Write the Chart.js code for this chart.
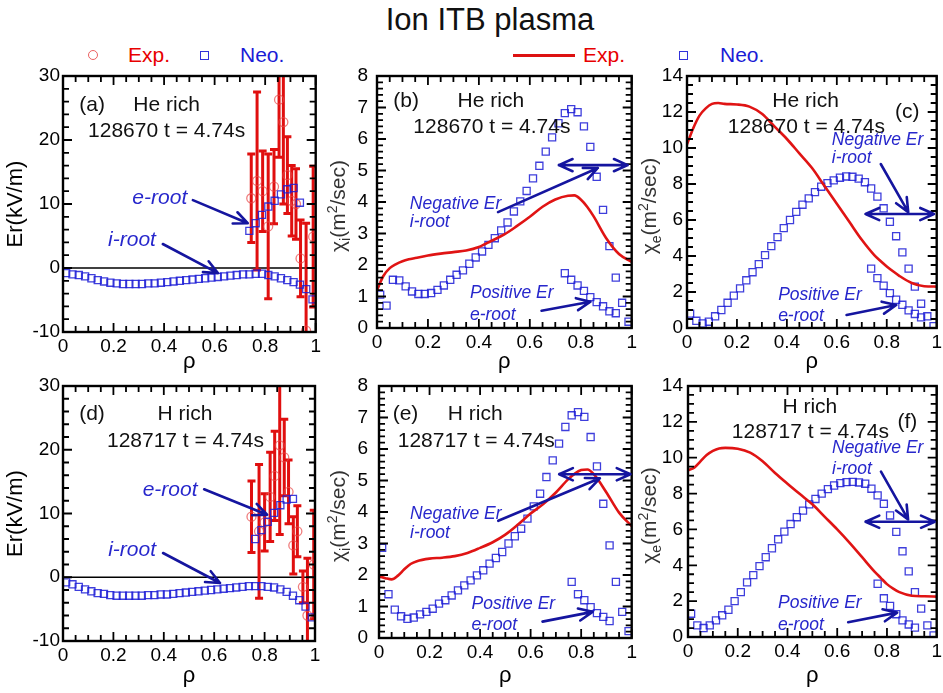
<!DOCTYPE html>
<html>
<head>
<meta charset="utf-8">
<title>Ion ITB plasma</title>
<script src="https://cdn.jsdelivr.net/npm/chart.js@4.4.1/dist/chart.umd.min.js"></script>
<style>
  body { margin: 0; width: 943px; height: 693px; background: #fff; position: relative; overflow: hidden;
         font-family: "Liberation Sans", Arial, sans-serif; }
  canvas { position: absolute; }
  .txt { position: absolute; font-size: 21px; line-height: 22px; white-space: nowrap; }
  #title { position: absolute; left: 290px; width: 400px; top: 3px; text-align: center; font-size: 31px; line-height: 34px; color: #111; }
  .circ { position: absolute; width: 8px; height: 8px; border-radius: 50%; border: 1.4px solid rgba(232,70,70,0.85); }
  .sq { position: absolute; width: 7px; height: 7px; border: 1.4px solid rgba(28,28,214,0.9); }
  .red { color: #e80000; }
  .blue { color: #1a1ad6; }
</style>
</head>
<body>
<div id="title">Ion ITB plasma</div>

<div class="circ" style="left:88px;top:50px"></div>
<div class="txt red" style="left:128px;top:44px">Exp.</div>
<div class="sq" style="left:200px;top:51px"></div>
<div class="txt blue" style="left:240px;top:44px">Neo.</div>

<div style="position:absolute;left:513px;top:54px;width:62px;height:3px;background:#dd1111"></div>
<div class="txt red" style="left:583px;top:44px">Exp.</div>
<div class="sq" style="left:679px;top:51px"></div>
<div class="txt blue" style="left:720px;top:44px">Neo.</div>

<canvas id="pa" width="322" height="318" style="left:0;top:62px"></canvas>
<canvas id="pb" width="316" height="318" style="left:322px;top:62px"></canvas>
<canvas id="pc" width="305" height="318" style="left:638px;top:62px"></canvas>
<canvas id="pd" width="322" height="321" style="left:0;top:372px"></canvas>
<canvas id="pe" width="316" height="321" style="left:322px;top:372px"></canvas>
<canvas id="pf" width="305" height="321" style="left:638px;top:372px"></canvas>

<script>
// tick labels
const xTicks = [0, 0.2, 0.4, 0.6, 0.8, 1];
const erTicks = [-10, 0, 10, 20, 30];
const chiITicks = [0, 1, 2, 3, 4, 5, 6, 7, 8];
const chiETicks = [0, 2, 4, 6, 8, 10, 12, 14];

// rho grid of the neoclassical points
const rhoNeo = [0.0125, 0.0375, 0.0625, 0.0875, 0.1125, 0.1375, 0.1625, 0.1875, 0.2125, 0.2375,
  0.2625, 0.2875, 0.3125, 0.3375, 0.3625, 0.3875, 0.4125, 0.4375, 0.4625, 0.4875,
  0.5125, 0.5375, 0.5625, 0.5875, 0.6125, 0.6375, 0.6625, 0.6875, 0.7125, 0.7375,
  0.7625, 0.7875, 0.8125, 0.8375, 0.8625, 0.8875, 0.9125, 0.9375, 0.9625, 0.9875];
const rhoEroot9 = [0.7375, 0.7625, 0.7875, 0.8125, 0.8375, 0.8625, 0.8875, 0.9125, 0.9375];
const rhoEroot7 = [0.7625, 0.7875, 0.8125, 0.8375, 0.8625, 0.8875, 0.9125];
// rho grid of the experimental chi curves
const rhoCurve = [0, 0.025, 0.05, 0.075, 0.1, 0.125, 0.15, 0.2, 0.25, 0.3, 0.35, 0.4, 0.45,
  0.5, 0.55, 0.6, 0.65, 0.7, 0.75, 0.775, 0.8, 0.825, 0.85, 0.9, 0.95, 1.0];

// (a) He rich, Er
const aIroot = [-0.8, -1.0, -1.1, -1.3, -1.6, -1.9, -2.1, -2.3, -2.4, -2.5,
  -2.5, -2.5, -2.5, -2.4, -2.4, -2.3, -2.2, -2.1, -2.0, -1.9,
  -1.8, -1.7, -1.6, -1.5, -1.4, -1.3, -1.2, -1.1, -1.0, -1.0,
  -0.9, -0.9, -1.1, -1.3, -1.6, -1.9, -2.2, -2.6, -3.3, -4.9];
const aEroot = [5.8, 7.0, 8.3, 9.6, 10.5, 11.5, 12.3, 12.5, 10.2];
const aExpRho = [0.745, 0.768, 0.790, 0.812, 0.835, 0.855, 0.872, 0.888, 0.905, 0.922, 0.940, 0.962, 0.990];
const aExpEr = [10.9, 13.6, 12.0, 6.5, 12.7, 26.3, 22.8, 14.5, 10.5, 10.0, 1.5, -9.8, 4.9];
const aExpErr = [6.9, 13.9, 6.3, 11.3, 5.8, 9.0, 12.8, 6.0, 5.5, 5.5, 6.0, 16.8, 11.0];

// (d) H rich, Er
const dIroot = [-0.8, -1.1, -1.5, -1.9, -2.2, -2.5, -2.6, -2.8, -2.9, -2.9,
  -2.9, -2.9, -2.9, -2.8, -2.8, -2.7, -2.7, -2.6, -2.5, -2.4,
  -2.3, -2.2, -2.1, -2.0, -1.9, -1.8, -1.7, -1.6, -1.5, -1.4,
  -1.4, -1.4, -1.5, -1.6, -1.9, -2.3, -2.9, -3.6, -4.6, -6.3];
const dEroot = [6.0, 7.4, 8.7, 10.1, 11.3, 12.2, 12.3];
const dExpRho = [0.748, 0.778, 0.800, 0.822, 0.840, 0.860, 0.878, 0.895, 0.914, 0.930, 0.952, 0.970, 0.995];
const dExpEr = [9.5, 7.2, 8.6, 12.6, 15.9, 20.7, 18.8, 13.4, 5.0, 7.2, -1.5, -6.0, 2.0];
const dExpErr = [5.6, 10.5, 4.5, 7.0, 7.0, 14.0, 6.0, 5.0, 4.5, 4.0, 2.5, 9.0, 8.5];

// (b) He rich, chi_i
const bExp = [1.2, 1.65, 1.9, 2.03, 2.12, 2.18, 2.22, 2.3, 2.36, 2.41, 2.46, 2.57, 2.77,
  2.97, 3.24, 3.53, 3.85, 4.08, 4.2, 4.21, 4.08, 3.85, 3.55, 2.85, 2.35, 2.1];
const bIroot = [1.06, 0.71, 1.53, 1.51, 1.32, 1.16, 1.08, 1.08, 1.11, 1.21,
  1.35, 1.53, 1.69, 1.83, 2.04, 2.24, 2.43, 2.64, 2.85, 3.1,
  3.35, 3.7, 4.02, 4.35, 4.75, 5.15, 5.6, 6.05, 6.5, 6.82,
  6.95, 6.85, 6.4, 5.75, 4.8, 3.75, 2.6, 1.6, 0.8, 0.2];
const bEroot = [1.74, 1.53, 1.35, 1.18, 0.98, 0.82, 0.69, 0.53, 0.47];

// (c) He rich, chi_e
const cExp = [10.2, 11.1, 11.8, 12.2, 12.45, 12.5, 12.45, 12.42, 12.3, 11.9, 11.2, 10.5, 9.7,
  8.9, 7.9, 6.9, 5.9, 4.9, 4.05, 3.72, 3.42, 3.15, 2.9, 2.5, 2.32, 2.3];
const cIroot = [0.8, 0.4, 0.25, 0.35, 0.65, 1.0, 1.4, 1.8, 2.2, 2.65,
  3.1, 3.55, 4.05, 4.55, 5.05, 5.55, 6.0, 6.45, 6.85, 7.2,
  7.55, 7.85, 8.05, 8.2, 8.35, 8.42, 8.4, 8.3, 8.1, 7.75,
  7.3, 6.65, 5.9, 5.1, 4.2, 3.3, 2.3, 1.35, 0.65, 0.1];
const cEroot = [3.3, 2.77, 2.35, 1.94, 1.57, 1.29, 0.98, 0.78, 0.59];

// (e) H rich, chi_i
const eExp = [1.95, 1.9, 1.86, 1.98, 2.18, 2.35, 2.44, 2.52, 2.55, 2.6, 2.7, 2.86, 3.04,
  3.28, 3.6, 3.95, 4.25, 4.62, 5.05, 5.22, 5.33, 5.35, 5.2, 4.62, 3.98, 3.55];
const eIroot = [2.86, 1.39, 0.9, 0.69, 0.61, 0.65, 0.75, 0.83, 0.93, 1.09,
  1.2, 1.35, 1.51, 1.67, 1.83, 1.99, 2.15, 2.36, 2.54, 2.73,
  3.0, 3.23, 3.47, 3.79, 4.18, 4.58, 5.11, 5.64, 6.17, 6.7,
  7.07, 7.17, 7.02, 6.38, 5.45, 4.26, 2.94, 1.78, 0.83, 0.22];
const eEroot = [1.78, 1.39, 1.2, 0.98, 0.79, 0.67, 0.54];

// (f) H rich, chi_e
const fExp = [9.3, 9.45, 9.8, 10.15, 10.38, 10.52, 10.55, 10.5, 10.28, 9.8, 9.15, 8.55, 7.97,
  7.4, 6.7, 6.0, 5.25, 4.45, 3.65, 3.3, 2.95, 2.7, 2.5, 2.3, 2.27, 2.25];
const fIroot = [1.3, 0.65, 0.5, 0.65, 0.93, 1.21, 1.52, 2.0, 2.5, 3.05,
  3.45, 3.95, 4.45, 4.95, 5.45, 5.88, 6.3, 6.68, 7.05, 7.4,
  7.7, 8.0, 8.25, 8.45, 8.58, 8.64, 8.65, 8.62, 8.55, 8.27,
  7.9, 7.43, 6.78, 5.86, 4.78, 3.66, 2.5, 1.58, 0.65, 0.09];
const fEroot = [2.97, 2.16, 1.73, 1.27, 0.93, 0.7, 0.52];

const FONT = '"Liberation Sans", Arial, sans-serif';
const BLUE_PT = 'rgba(28,28,214,0.85)';
const RED_LINE = '#e01414';
const RED_PT = 'rgba(232,70,70,0.7)';
const RED_BAR = '#e00f0f';
const NOTE_BLUE = '#2727cc';
const ARROW_BLUE = '#15159f';

Chart.defaults.font.family = FONT;

const pts = (xs, ys) => xs.map((x, i) => ({ x: x, y: ys[i] }));
const fmt = v => String(Number(v.toFixed(3)));

function neoSet(xs, ys) {
  return { data: pts(xs, ys), pointStyle: 'rect', pointRadius: 5, borderWidth: 1.3,
    borderColor: BLUE_PT, backgroundColor: 'rgba(0,0,0,0)', order: 2 };
}
function curveSet(ys) {
  return { data: pts(rhoCurve, ys), showLine: true, pointRadius: 0, borderColor: RED_LINE,
    borderWidth: 2.6, cubicInterpolationMode: 'monotone', order: 1 };
}
function expSet(xs, ys, errs) {
  return { data: pts(xs, ys), errors: errs, pointStyle: 'circle', pointRadius: 4.5, borderWidth: 1.3,
    borderColor: RED_PT, backgroundColor: 'rgba(0,0,0,0)', order: 3 };
}

function arrowHead(ctx, x1, y1, x2, y2) {
  const ang = Math.atan2(y2 - y1, x2 - x1), len = 15, spread = 0.42;
  ctx.moveTo(x2, y2);
  ctx.lineTo(x2 - len * Math.cos(ang - spread), y2 - len * Math.sin(ang - spread));
  ctx.moveTo(x2, y2);
  ctx.lineTo(x2 - len * Math.cos(ang + spread), y2 - len * Math.sin(ang + spread));
}

// rotated chi label with subscript and superscript
function drawChiTitle(ctx, cx, cy, sub) {
  const big = '21px ' + FONT, small = '14px ' + FONT;
  const parts = [['χ', big, 0], [sub, small, 5], ['(m', big, 0], ['2', small, -8], ['/sec)', big, 0]];
  ctx.save();
  ctx.translate(cx, cy);
  ctx.rotate(-Math.PI / 2);
  let w = 0;
  parts.forEach(pt => { ctx.font = pt[1]; w += ctx.measureText(pt[0]).width; });
  let px = -w / 2;
  ctx.textBaseline = 'alphabetic';
  ctx.textAlign = 'left';
  ctx.fillStyle = '#333';
  parts.forEach(pt => {
    ctx.font = pt[1];
    ctx.fillText(pt[0], px, 7 + pt[2]);
    px += ctx.measureText(pt[0]).width;
  });
  ctx.restore();
}

// frame, inward ticks, zero line, error bars and annotations
function panelPlugin(p) {
  return {
    id: 'panel',
    beforeDatasetsDraw(chart) {
      const { ctx, chartArea: a, scales: { x, y } } = chart;
      if (p.zeroLine) {
        const py = y.getPixelForValue(0);
        ctx.save();
        ctx.strokeStyle = '#000';
        ctx.lineWidth = 1.6;
        ctx.beginPath();
        ctx.moveTo(a.left, py);
        ctx.lineTo(a.right, py);
        ctx.stroke();
        ctx.restore();
      }
      chart.data.datasets.forEach((ds, i) => {
        if (!ds.errors) return;
        const meta = chart.getDatasetMeta(i);
        ctx.save();
        ctx.beginPath();
        ctx.rect(a.left, a.top, a.right - a.left, a.bottom - a.top);
        ctx.clip();
        ctx.strokeStyle = RED_BAR;
        ctx.lineWidth = 3;
        meta.data.forEach((pt, j) => {
          const v = ds.data[j].y, e = ds.errors[j];
          const y1 = y.getPixelForValue(v + e), y2 = y.getPixelForValue(v - e);
          ctx.beginPath();
          ctx.moveTo(pt.x, y1); ctx.lineTo(pt.x, y2);
          ctx.moveTo(pt.x - 4, y1); ctx.lineTo(pt.x + 4, y1);
          ctx.moveTo(pt.x - 4, y2); ctx.lineTo(pt.x + 4, y2);
          ctx.stroke();
        });
        ctx.restore();
      });
    },
    afterDatasetsDraw(chart) {
      const { ctx, chartArea: a, scales: { x, y } } = chart;
      ctx.save();
      ctx.strokeStyle = '#000';
      ctx.lineWidth = 2.4;
      ctx.strokeRect(a.left, a.top, a.right - a.left, a.bottom - a.top);
      ctx.lineWidth = 1.8;
      ctx.beginPath();
      const xt = p.xTicks, yt = p.yTicks;
      const xStep = xt[1] - xt[0], yStep = yt[1] - yt[0];
      for (let k = 0; ; k++) {
        const v = x.min + k * p.xMinor;
        if (v > x.max + 1e-9) break;
        const r = (v - x.min) / xStep;
        const len = Math.abs(r - Math.round(r)) < 1e-6 ? 9 : 6;
        const px = x.getPixelForValue(v);
        ctx.moveTo(px, a.bottom); ctx.lineTo(px, a.bottom - len);
        ctx.moveTo(px, a.top); ctx.lineTo(px, a.top + len);
      }
      for (let k = 0; ; k++) {
        const v = y.min + k * p.yMinor;
        if (v > y.max + 1e-9) break;
        const r = (v - y.min) / yStep;
        const len = Math.abs(r - Math.round(r)) < 1e-6 ? 9 : 6;
        const py = y.getPixelForValue(v);
        ctx.moveTo(a.left, py); ctx.lineTo(a.left + len, py);
        ctx.moveTo(a.right, py); ctx.lineTo(a.right - len, py);
      }
      ctx.stroke();
      ctx.restore();
    },
    afterDraw(chart) {
      const { ctx, chartArea: a, scales: { x, y } } = chart;
      if (p.chiSub) drawChiTitle(ctx, p.chiX, (a.top + a.bottom) / 2 + 4, p.chiSub);
      ctx.save();
      ctx.textBaseline = 'middle';
      p.texts.forEach(n => {
        const size = n.size || 21;
        ctx.font = (n.blue ? 'italic ' : '') + size + 'px ' + FONT;
        ctx.fillStyle = n.blue ? NOTE_BLUE : '#111';
        ctx.textAlign = n.align || 'center';
        ctx.fillText(n.t, x.getPixelForValue(n.x), y.getPixelForValue(n.y));
      });
      ctx.strokeStyle = ARROW_BLUE;
      ctx.lineWidth = 2.6;
      ctx.lineCap = 'round';
      p.arrows.forEach(ar => {
        const x1 = x.getPixelForValue(ar.x1), y1 = y.getPixelForValue(ar.y1);
        const x2 = x.getPixelForValue(ar.x2), y2 = y.getPixelForValue(ar.y2);
        ctx.beginPath();
        ctx.moveTo(x1, y1); ctx.lineTo(x2, y2);
        arrowHead(ctx, x1, y1, x2, y2);
        if (ar.both) arrowHead(ctx, x2, y2, x1, y1);
        ctx.stroke();
      });
      ctx.restore();
    }
  };
}

function makePanel(id, p) {
  const xt = p.xTicks, yt = p.yTicks;
  new Chart(document.getElementById(id), {
    type: 'scatter',
    data: { datasets: p.datasets },
    options: {
      responsive: false,
      animation: false,
      events: [],
      layout: { padding: p.pad },
      plugins: { legend: { display: false }, tooltip: { enabled: false } },
      scales: {
        x: {
          type: 'linear', min: xt[0], max: xt[xt.length - 1],
          afterBuildTicks: s => { s.ticks = xt.map(v => ({ value: v })); },
          afterFit: s => { s.height = p.xH; s.paddingLeft = 0; s.paddingRight = 0; },
          grid: { display: false, drawTicks: false },
          border: { display: false },
          ticks: { padding: 3, color: '#000', font: { size: 19 }, maxRotation: 0, autoSkip: false, callback: fmt },
          title: { display: true, text: 'ρ', color: '#000', font: { size: 22, lineHeight: 1 },
            padding: { top: 0, bottom: p.rhoPad } }
        },
        y: {
          type: 'linear', min: yt[0], max: yt[yt.length - 1],
          afterBuildTicks: s => { s.ticks = yt.map(v => ({ value: v })); },
          afterFit: s => { s.width = p.yW; s.paddingTop = 0; s.paddingBottom = 0; },
          grid: { display: false, drawTicks: false },
          border: { display: false },
          ticks: { padding: p.yPad, color: '#000', font: { size: 19 }, autoSkip: false, callback: fmt },
          title: { display: !!p.yTitle, text: p.yTitle || '', color: '#000', font: { size: 22, lineHeight: 1 },
            padding: { top: 5, bottom: 0 } }
        }
      }
    },
    plugins: [panelPlugin(p)]
  });
}

const B = true;

makePanel('pa', {
  datasets: [neoSet(rhoNeo, aIroot), neoSet(rhoEroot9, aEroot), expSet(aExpRho, aExpEr, aExpErr)],
  xTicks: xTicks, yTicks: erTicks, xMinor: 0.05, yMinor: 2, zeroLine: true,
  pad: { top: 14, right: 6, left: 0, bottom: 0 }, yW: 63, xH: 48, rhoPad: 7, yPad: 3,
  yTitle: 'Er(kV/m)',
  texts: [
    { t: '(a)', x: 0.115, y: 25.5 },
    { t: 'He rich', x: 0.41, y: 25.5 },
    { t: '128670 t = 4.74s', x: 0.41, y: 21.4 },
    { t: 'e-root', x: 0.383, y: 10.9, blue: B },
    { t: 'i-root', x: 0.273, y: 4.4, blue: B }
  ],
  arrows: [
    { x1: 0.514, y1: 10.6, x2: 0.731, y2: 7.0 },
    { x1: 0.395, y1: 3.75, x2: 0.613, y2: -0.8 }
  ]
});

makePanel('pb', {
  datasets: [curveSet(bExp), neoSet(rhoNeo, bIroot), neoSet(rhoEroot9, bEroot)],
  xTicks: xTicks, yTicks: chiITicks, xMinor: 0.05, yMinor: 0.2,
  pad: { top: 14, right: 6, left: 0, bottom: 0 }, yW: 55, xH: 52, rhoPad: 7, yPad: 9,
  chiSub: 'i', chiX: 16,
  texts: [
    { t: '(b)', x: 0.114, y: 7.19 },
    { t: 'He rich', x: 0.447, y: 7.19 },
    { t: '128670 t = 4.74s', x: 0.451, y: 6.38 },
    { t: 'Negative Er', x: 0.129, y: 3.94, blue: B, size: 17.5, align: 'left' },
    { t: 'i-root', x: 0.129, y: 3.35, blue: B, size: 17.5, align: 'left' },
    { t: 'Positive Er', x: 0.365, y: 1.11, blue: B, size: 17.5, align: 'left' },
    { t: 'e-root', x: 0.365, y: 0.41, blue: B, size: 17.5, align: 'left' }
  ],
  arrows: [
    { x1: 0.475, y1: 3.68, x2: 0.867, y2: 5.08 },
    { x1: 0.714, y1: 5.17, x2: 0.984, y2: 5.17, both: true },
    { x1: 0.646, y1: 0.55, x2: 0.838, y2: 0.835 }
  ]
});

makePanel('pc', {
  datasets: [curveSet(cExp), neoSet(rhoNeo, cIroot), neoSet(rhoEroot9, cEroot)],
  xTicks: xTicks, yTicks: chiETicks, xMinor: 0.05, yMinor: 0.5,
  pad: { top: 14, right: 2, left: 0, bottom: 0 }, yW: 49, xH: 52, rhoPad: 7, yPad: 4,
  chiSub: 'e', chiX: 11,
  texts: [
    { t: 'He rich', x: 0.475, y: 12.58 },
    { t: '(c)', x: 0.882, y: 12.0 },
    { t: '128670 t = 4.74s', x: 0.478, y: 11.17 },
    { t: 'Negative Er', x: 0.58, y: 10.44, blue: B, size: 17.5, align: 'left' },
    { t: 'i-root', x: 0.58, y: 9.44, blue: B, size: 17.5, align: 'left' },
    { t: 'Positive Er', x: 0.365, y: 1.83, blue: B, size: 17.5, align: 'left' },
    { t: 'e-root', x: 0.365, y: 0.67, blue: B, size: 17.5, align: 'left' }
  ],
  arrows: [
    { x1: 0.776, y1: 9.11, x2: 0.886, y2: 6.44 },
    { x1: 0.715, y1: 6.33, x2: 0.989, y2: 6.33, both: true },
    { x1: 0.639, y1: 0.72, x2: 0.838, y2: 1.28 }
  ]
});

makePanel('pd', {
  datasets: [neoSet(rhoNeo, dIroot), neoSet(rhoEroot7, dEroot), expSet(dExpRho, dExpEr, dExpErr)],
  xTicks: xTicks, yTicks: erTicks, xMinor: 0.05, yMinor: 2, zeroLine: true,
  pad: { top: 14, right: 7, left: 0, bottom: 0 }, yW: 63, xH: 52, rhoPad: 6, yPad: 3,
  yTitle: 'Er(kV/m)',
  texts: [
    { t: '(d)', x: 0.115, y: 25.6 },
    { t: 'H rich', x: 0.484, y: 25.5 },
    { t: '128717 t = 4.74s', x: 0.486, y: 21.4 },
    { t: 'e-root', x: 0.425, y: 13.6, blue: B },
    { t: 'i-root', x: 0.274, y: 4.3, blue: B }
  ],
  arrows: [
    { x1: 0.56, y1: 13.8, x2: 0.81, y2: 9.8 },
    { x1: 0.397, y1: 3.8, x2: 0.623, y2: -0.9 }
  ]
});

makePanel('pe', {
  datasets: [curveSet(eExp), neoSet(rhoNeo, eIroot), neoSet(rhoEroot7, eEroot)],
  xTicks: xTicks, yTicks: chiITicks, xMinor: 0.05, yMinor: 0.2,
  pad: { top: 14, right: 6, left: 0, bottom: 0 }, yW: 57, xH: 55, rhoPad: 6, yPad: 11,
  chiSub: 'i', chiX: 15.5,
  texts: [
    { t: '(e)', x: 0.105, y: 7.11 },
    { t: 'H rich', x: 0.381, y: 7.11 },
    { t: '128717 t = 4.74s', x: 0.385, y: 6.25 },
    { t: 'Negative Er', x: 0.123, y: 3.94, blue: B, size: 17.5, align: 'left' },
    { t: 'i-root', x: 0.123, y: 3.33, blue: B, size: 17.5, align: 'left' },
    { t: 'Positive Er', x: 0.366, y: 1.08, blue: B, size: 17.5, align: 'left' },
    { t: 'e-root', x: 0.366, y: 0.41, blue: B, size: 17.5, align: 'left' }
  ],
  arrows: [
    { x1: 0.472, y1: 3.72, x2: 0.874, y2: 5.07 },
    { x1: 0.713, y1: 5.2, x2: 0.995, y2: 5.2, both: true },
    { x1: 0.647, y1: 0.52, x2: 0.845, y2: 0.83 }
  ]
});

makePanel('pf', {
  datasets: [curveSet(fExp), neoSet(rhoNeo, fIroot), neoSet(rhoEroot7, fEroot)],
  xTicks: xTicks, yTicks: chiETicks, xMinor: 0.05, yMinor: 0.5,
  pad: { top: 14, right: 2, left: 0, bottom: 0 }, yW: 50, xH: 56, rhoPad: 6, yPad: 5,
  chiSub: 'e', chiX: 11,
  texts: [
    { t: 'H rich', x: 0.49, y: 12.83 },
    { t: '(f)', x: 0.882, y: 12.0 },
    { t: '128717 t = 4.74s', x: 0.492, y: 11.43 },
    { t: 'Negative Er', x: 0.579, y: 10.51, blue: B, size: 17.5, align: 'left' },
    { t: 'i-root', x: 0.579, y: 9.37, blue: B, size: 17.5, align: 'left' },
    { t: 'Positive Er', x: 0.362, y: 1.87, blue: B, size: 17.5, align: 'left' },
    { t: 'e-root', x: 0.362, y: 0.67, blue: B, size: 17.5, align: 'left' }
  ],
  arrows: [
    { x1: 0.776, y1: 9.22, x2: 0.885, y2: 6.56 },
    { x1: 0.714, y1: 6.43, x2: 0.992, y2: 6.43, both: true },
    { x1: 0.644, y1: 0.82, x2: 0.841, y2: 1.36 }
  ]
});
</script>
</body>
</html>
